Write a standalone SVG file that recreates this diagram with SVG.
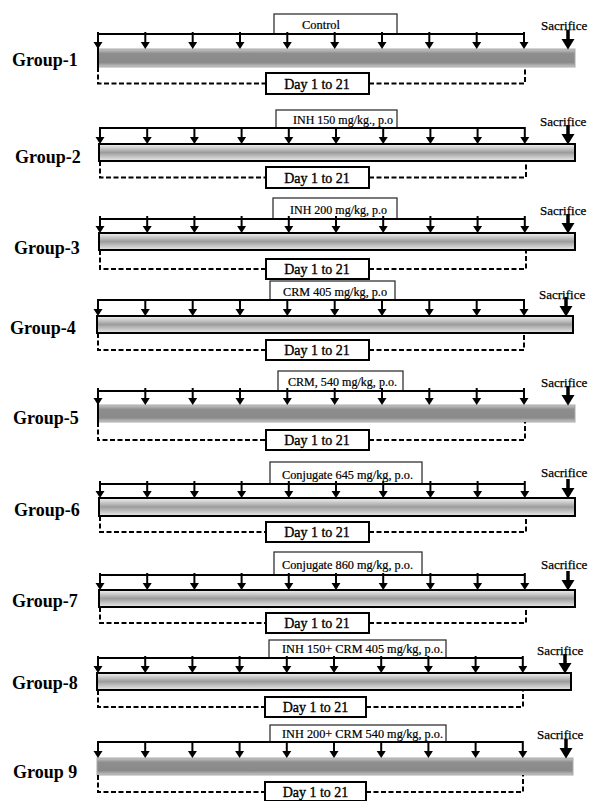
<svg xmlns="http://www.w3.org/2000/svg" xmlns:xlink="http://www.w3.org/1999/xlink" width="591" height="801" viewBox="0 0 591 801">
<style>
.grp{font-family:"Liberation Serif",serif;font-weight:bold;font-size:18px;fill:#000}
.lt{font-family:"Liberation Serif",serif;font-size:11.5px;fill:#000;stroke:#000;stroke-width:0.2}
.dt{font-family:"Liberation Serif",serif;font-size:14px;fill:#000;text-anchor:middle;stroke:#000;stroke-width:0.35}
.sac{font-family:"Liberation Serif",serif;font-size:13px;fill:#000;stroke:#000;stroke-width:0.25}
.lbl{fill:#fff;stroke:#333;stroke-width:1.3}
.day{fill:#fff;stroke:#000;stroke-width:2}
.tl{stroke:#000;stroke-width:2;fill:none}
.barL{fill:url(#gL);stroke:#000;stroke-width:2}
.barD{fill:url(#gD);stroke:#aaa;stroke-width:1}
.edge{stroke:#000;stroke-width:2}
.dash{fill:none;stroke:#000;stroke-width:2;stroke-dasharray:5 2.5}
</style>
<defs>
<linearGradient id="gL" x1="0" y1="0" x2="0" y2="1">
<stop offset="0" stop-color="#f4f4f4"/><stop offset="0.5" stop-color="#9c9c9c"/><stop offset="1" stop-color="#ececec"/>
</linearGradient>
<linearGradient id="gD" x1="0" y1="0" x2="0" y2="1">
<stop offset="0" stop-color="#c8c8c8"/><stop offset="0.25" stop-color="#8e8e8e"/><stop offset="0.75" stop-color="#8a8a8a"/><stop offset="1" stop-color="#c8c8c8"/>
</linearGradient>
<g id="d"><line x1="0" y1="-2" x2="0" y2="9" stroke="#000" stroke-width="2"/><path d="M-4.5,8 L4.5,8 L0,15 Z" fill="#000"/></g>
<g id="s"><line x1="0" y1="-19" x2="0" y2="-7" stroke="#000" stroke-width="3.5"/><path d="M-6.5,-10 L6.5,-10 L0,0.5 Z" fill="#000"/></g>
</defs>

<g id="group-1">
<text class="grp" x="12" y="66">Group-1</text>
<rect class="barD" x="98" y="49" width="477" height="18"/>
<line class="edge" x1="98" y1="34" x2="98" y2="67"/>
<rect class="lbl" x="274" y="14" width="123" height="20"/>
<text class="lt" x="302" y="29" textLength="38" lengthAdjust="spacingAndGlyphs">Control</text>
<line class="tl" x1="98" y1="34" x2="525" y2="34"/>
<rect class="day" x="266" y="73" width="103" height="21"/>
<text class="dt" x="317" y="88.5">Day 1 to 21</text>
<text class="sac" x="541" y="30">Sacrifice</text>
</g>

<g id="group-2">
<text class="grp" x="15" y="163">Group-2</text>
<rect class="barL" x="99" y="144" width="476" height="17"/>
<rect class="lbl" x="276" y="110" width="121" height="18"/>
<text class="lt" x="293" y="123.5" textLength="100" lengthAdjust="spacingAndGlyphs">INH 150 mg/kg., p.o</text>
<line class="tl" x1="99" y1="128" x2="525" y2="128"/>
<rect class="day" x="266" y="167" width="103" height="21"/>
<text class="dt" x="317" y="182.5">Day 1 to 21</text>
<text class="sac" x="540" y="126">Sacrifice</text>
</g>

<g id="group-3">
<text class="grp" x="14" y="254">Group-3</text>
<rect class="barL" x="99" y="233" width="476" height="17"/>
<rect class="lbl" x="273" y="198" width="124" height="21"/>
<text class="lt" x="290" y="213.5" textLength="97" lengthAdjust="spacingAndGlyphs">INH 200 mg/kg, p.o</text>
<line class="tl" x1="99" y1="219" x2="525" y2="219"/>
<rect class="day" x="266" y="259" width="103" height="20"/>
<text class="dt" x="317" y="274">Day 1 to 21</text>
<text class="sac" x="540" y="215">Sacrifice</text>
</g>

<g id="group-4">
<text class="grp" x="10" y="334">Group-4</text>
<rect class="barL" x="97" y="316" width="476" height="17"/>
<rect class="lbl" x="270" y="281" width="125" height="19"/>
<text class="lt" x="283" y="295.5" textLength="104" lengthAdjust="spacingAndGlyphs">CRM 405 mg/kg, p.o</text>
<line class="tl" x1="97" y1="300" x2="524" y2="300"/>
<rect class="day" x="266" y="340" width="103" height="20"/>
<text class="dt" x="317" y="355">Day 1 to 21</text>
<text class="sac" x="539" y="299">Sacrifice</text>
</g>

<g id="group-5">
<text class="grp" x="13" y="424">Group-5</text>
<rect class="barD" x="98" y="405" width="477" height="17"/>
<line class="edge" x1="98" y1="391" x2="98" y2="422"/>
<rect class="lbl" x="278" y="371" width="125" height="20"/>
<text class="lt" x="288" y="386" textLength="109" lengthAdjust="spacingAndGlyphs">CRM, 540 mg/kg, p.o.</text>
<line class="tl" x1="98" y1="391" x2="525" y2="391"/>
<rect class="day" x="266" y="430" width="103" height="20"/>
<text class="dt" x="317" y="445">Day 1 to 21</text>
<text class="sac" x="541" y="387">Sacrifice</text>
</g>

<g id="group-6">
<text class="grp" x="14" y="516">Group-6</text>
<rect class="barL" x="99" y="498" width="476" height="18"/>
<rect class="lbl" x="270" y="462" width="152" height="22"/>
<text class="lt" x="282" y="478.5" textLength="131" lengthAdjust="spacingAndGlyphs">Conjugate 645 mg/kg, p.o.</text>
<line class="tl" x1="99" y1="484" x2="525" y2="484"/>
<rect class="day" x="266" y="522" width="103" height="20"/>
<text class="dt" x="317" y="537">Day 1 to 21</text>
<text class="sac" x="541" y="477">Sacrifice</text>
</g>

<g id="group-7">
<text class="grp" x="12" y="607">Group-7</text>
<rect class="barL" x="99" y="590" width="476" height="17"/>
<rect class="lbl" x="274" y="552" width="148" height="23"/>
<text class="lt" x="282" y="569" textLength="131" lengthAdjust="spacingAndGlyphs">Conjugate 860 mg/kg, p.o.</text>
<line class="tl" x1="99" y1="575" x2="525" y2="575"/>
<rect class="day" x="266" y="613" width="103" height="20"/>
<text class="dt" x="317" y="628">Day 1 to 21</text>
<text class="sac" x="541" y="569">Sacrifice</text>
</g>

<g id="group-8">
<text class="grp" x="12" y="689">Group-8</text>
<rect class="barL" x="97" y="673" width="474" height="17"/>
<rect class="lbl" x="269" y="640" width="177" height="18"/>
<text class="lt" x="282" y="653" textLength="161" lengthAdjust="spacingAndGlyphs">INH 150+ CRM 405 mg/kg, p.o.</text>
<line class="tl" x1="97" y1="658" x2="523" y2="658"/>
<rect class="day" x="265" y="697" width="101" height="20"/>
<text class="dt" x="315.5" y="712">Day 1 to 21</text>
<text class="sac" x="537" y="655">Sacrifice</text>
</g>

<g id="group-9">
<text class="grp" x="13" y="778">Group 9</text>
<rect class="barD" x="97" y="758" width="476" height="17"/>
<rect class="lbl" x="270" y="725" width="176" height="17"/>
<text class="lt" x="282" y="737.5" textLength="161" lengthAdjust="spacingAndGlyphs">INH 200+ CRM 540 mg/kg, p.o.</text>
<line class="tl" x1="97" y1="742" x2="523" y2="742"/>
<rect class="day" x="265" y="782" width="101" height="19"/>
<text class="dt" x="315.5" y="796.5">Day 1 to 21</text>
<text class="sac" x="537" y="739">Sacrifice</text>
</g>

<g id="connectors">
<use xlink:href="#d" x="98" y="34"/><use xlink:href="#d" x="145.3" y="34"/><use xlink:href="#d" x="192.7" y="34"/><use xlink:href="#d" x="240" y="34"/><use xlink:href="#d" x="287.3" y="34"/><use xlink:href="#d" x="334.7" y="34"/><use xlink:href="#d" x="382" y="34"/><use xlink:href="#d" x="429.3" y="34"/><use xlink:href="#d" x="476.7" y="34"/><use xlink:href="#d" x="524" y="34"/>
<use xlink:href="#s" x="568" y="49"/>
<path class="dash" d="M98,67 V83.5 H266 M369,83.5 H525 V67"/>
<use xlink:href="#d" x="100" y="129"/><use xlink:href="#d" x="147.2" y="129"/><use xlink:href="#d" x="194.4" y="129"/><use xlink:href="#d" x="241.6" y="129"/><use xlink:href="#d" x="288.8" y="129"/><use xlink:href="#d" x="336" y="129"/><use xlink:href="#d" x="383.2" y="129"/><use xlink:href="#d" x="430.4" y="129"/><use xlink:href="#d" x="477.6" y="129"/><use xlink:href="#d" x="524.8" y="129"/>
<use xlink:href="#s" x="568" y="144"/>
<path class="dash" d="M100,161 V177.5 H266 M369,177.5 H526 V161"/>
<use xlink:href="#d" x="100" y="218"/><use xlink:href="#d" x="147.2" y="218"/><use xlink:href="#d" x="194.4" y="218"/><use xlink:href="#d" x="241.6" y="218"/><use xlink:href="#d" x="288.8" y="218"/><use xlink:href="#d" x="336" y="218"/><use xlink:href="#d" x="383.2" y="218"/><use xlink:href="#d" x="430.4" y="218"/><use xlink:href="#d" x="477.6" y="218"/><use xlink:href="#d" x="524.8" y="218"/>
<use xlink:href="#s" x="568" y="233"/>
<path class="dash" d="M100,250 V269 H266 M369,269 H526 V250"/>
<use xlink:href="#d" x="98" y="301"/><use xlink:href="#d" x="145.3" y="301"/><use xlink:href="#d" x="192.7" y="301"/><use xlink:href="#d" x="240" y="301"/><use xlink:href="#d" x="287.3" y="301"/><use xlink:href="#d" x="334.7" y="301"/><use xlink:href="#d" x="382" y="301"/><use xlink:href="#d" x="429.3" y="301"/><use xlink:href="#d" x="476.7" y="301"/><use xlink:href="#d" x="524" y="301"/>
<use xlink:href="#s" x="566" y="316"/>
<path class="dash" d="M98,333 V350 H266 M369,350 H524 V333"/>
<use xlink:href="#d" x="98" y="390"/><use xlink:href="#d" x="145.3" y="390"/><use xlink:href="#d" x="192.7" y="390"/><use xlink:href="#d" x="240" y="390"/><use xlink:href="#d" x="287.3" y="390"/><use xlink:href="#d" x="334.7" y="390"/><use xlink:href="#d" x="382" y="390"/><use xlink:href="#d" x="429.3" y="390"/><use xlink:href="#d" x="476.7" y="390"/><use xlink:href="#d" x="524" y="390"/>
<use xlink:href="#s" x="568" y="405"/>
<path class="dash" d="M98,422 V440 H266 M369,440 H525 V422"/>
<use xlink:href="#d" x="100" y="483"/><use xlink:href="#d" x="147.2" y="483"/><use xlink:href="#d" x="194.4" y="483"/><use xlink:href="#d" x="241.6" y="483"/><use xlink:href="#d" x="288.8" y="483"/><use xlink:href="#d" x="336" y="483"/><use xlink:href="#d" x="383.2" y="483"/><use xlink:href="#d" x="430.4" y="483"/><use xlink:href="#d" x="477.6" y="483"/><use xlink:href="#d" x="524.8" y="483"/>
<use xlink:href="#s" x="568" y="498"/>
<path class="dash" d="M100,516 V532 H266 M369,532 H526 V516"/>
<use xlink:href="#d" x="100" y="575"/><use xlink:href="#d" x="147.2" y="575"/><use xlink:href="#d" x="194.4" y="575"/><use xlink:href="#d" x="241.6" y="575"/><use xlink:href="#d" x="288.8" y="575"/><use xlink:href="#d" x="336" y="575"/><use xlink:href="#d" x="383.2" y="575"/><use xlink:href="#d" x="430.4" y="575"/><use xlink:href="#d" x="477.6" y="575"/><use xlink:href="#d" x="524.8" y="575"/>
<use xlink:href="#s" x="568" y="590"/>
<path class="dash" d="M100,607 V623 H266 M369,623 H526 V607"/>
<use xlink:href="#d" x="98" y="658"/><use xlink:href="#d" x="145.2" y="658"/><use xlink:href="#d" x="192.4" y="658"/><use xlink:href="#d" x="239.6" y="658"/><use xlink:href="#d" x="286.8" y="658"/><use xlink:href="#d" x="334" y="658"/><use xlink:href="#d" x="381.2" y="658"/><use xlink:href="#d" x="428.4" y="658"/><use xlink:href="#d" x="475.6" y="658"/><use xlink:href="#d" x="522.8" y="658"/>
<use xlink:href="#s" x="565" y="673"/>
<path class="dash" d="M98,690 V707 H265 M366,707 H523 V690"/>
<use xlink:href="#d" x="98" y="743"/><use xlink:href="#d" x="145.2" y="743"/><use xlink:href="#d" x="192.4" y="743"/><use xlink:href="#d" x="239.6" y="743"/><use xlink:href="#d" x="286.8" y="743"/><use xlink:href="#d" x="334" y="743"/><use xlink:href="#d" x="381.2" y="743"/><use xlink:href="#d" x="428.4" y="743"/><use xlink:href="#d" x="475.6" y="743"/><use xlink:href="#d" x="522.8" y="743"/>
<use xlink:href="#s" x="566" y="758"/>
<path class="dash" d="M98,775 V792 H265 M366,792 H523 V775"/>
</g>
</svg>
